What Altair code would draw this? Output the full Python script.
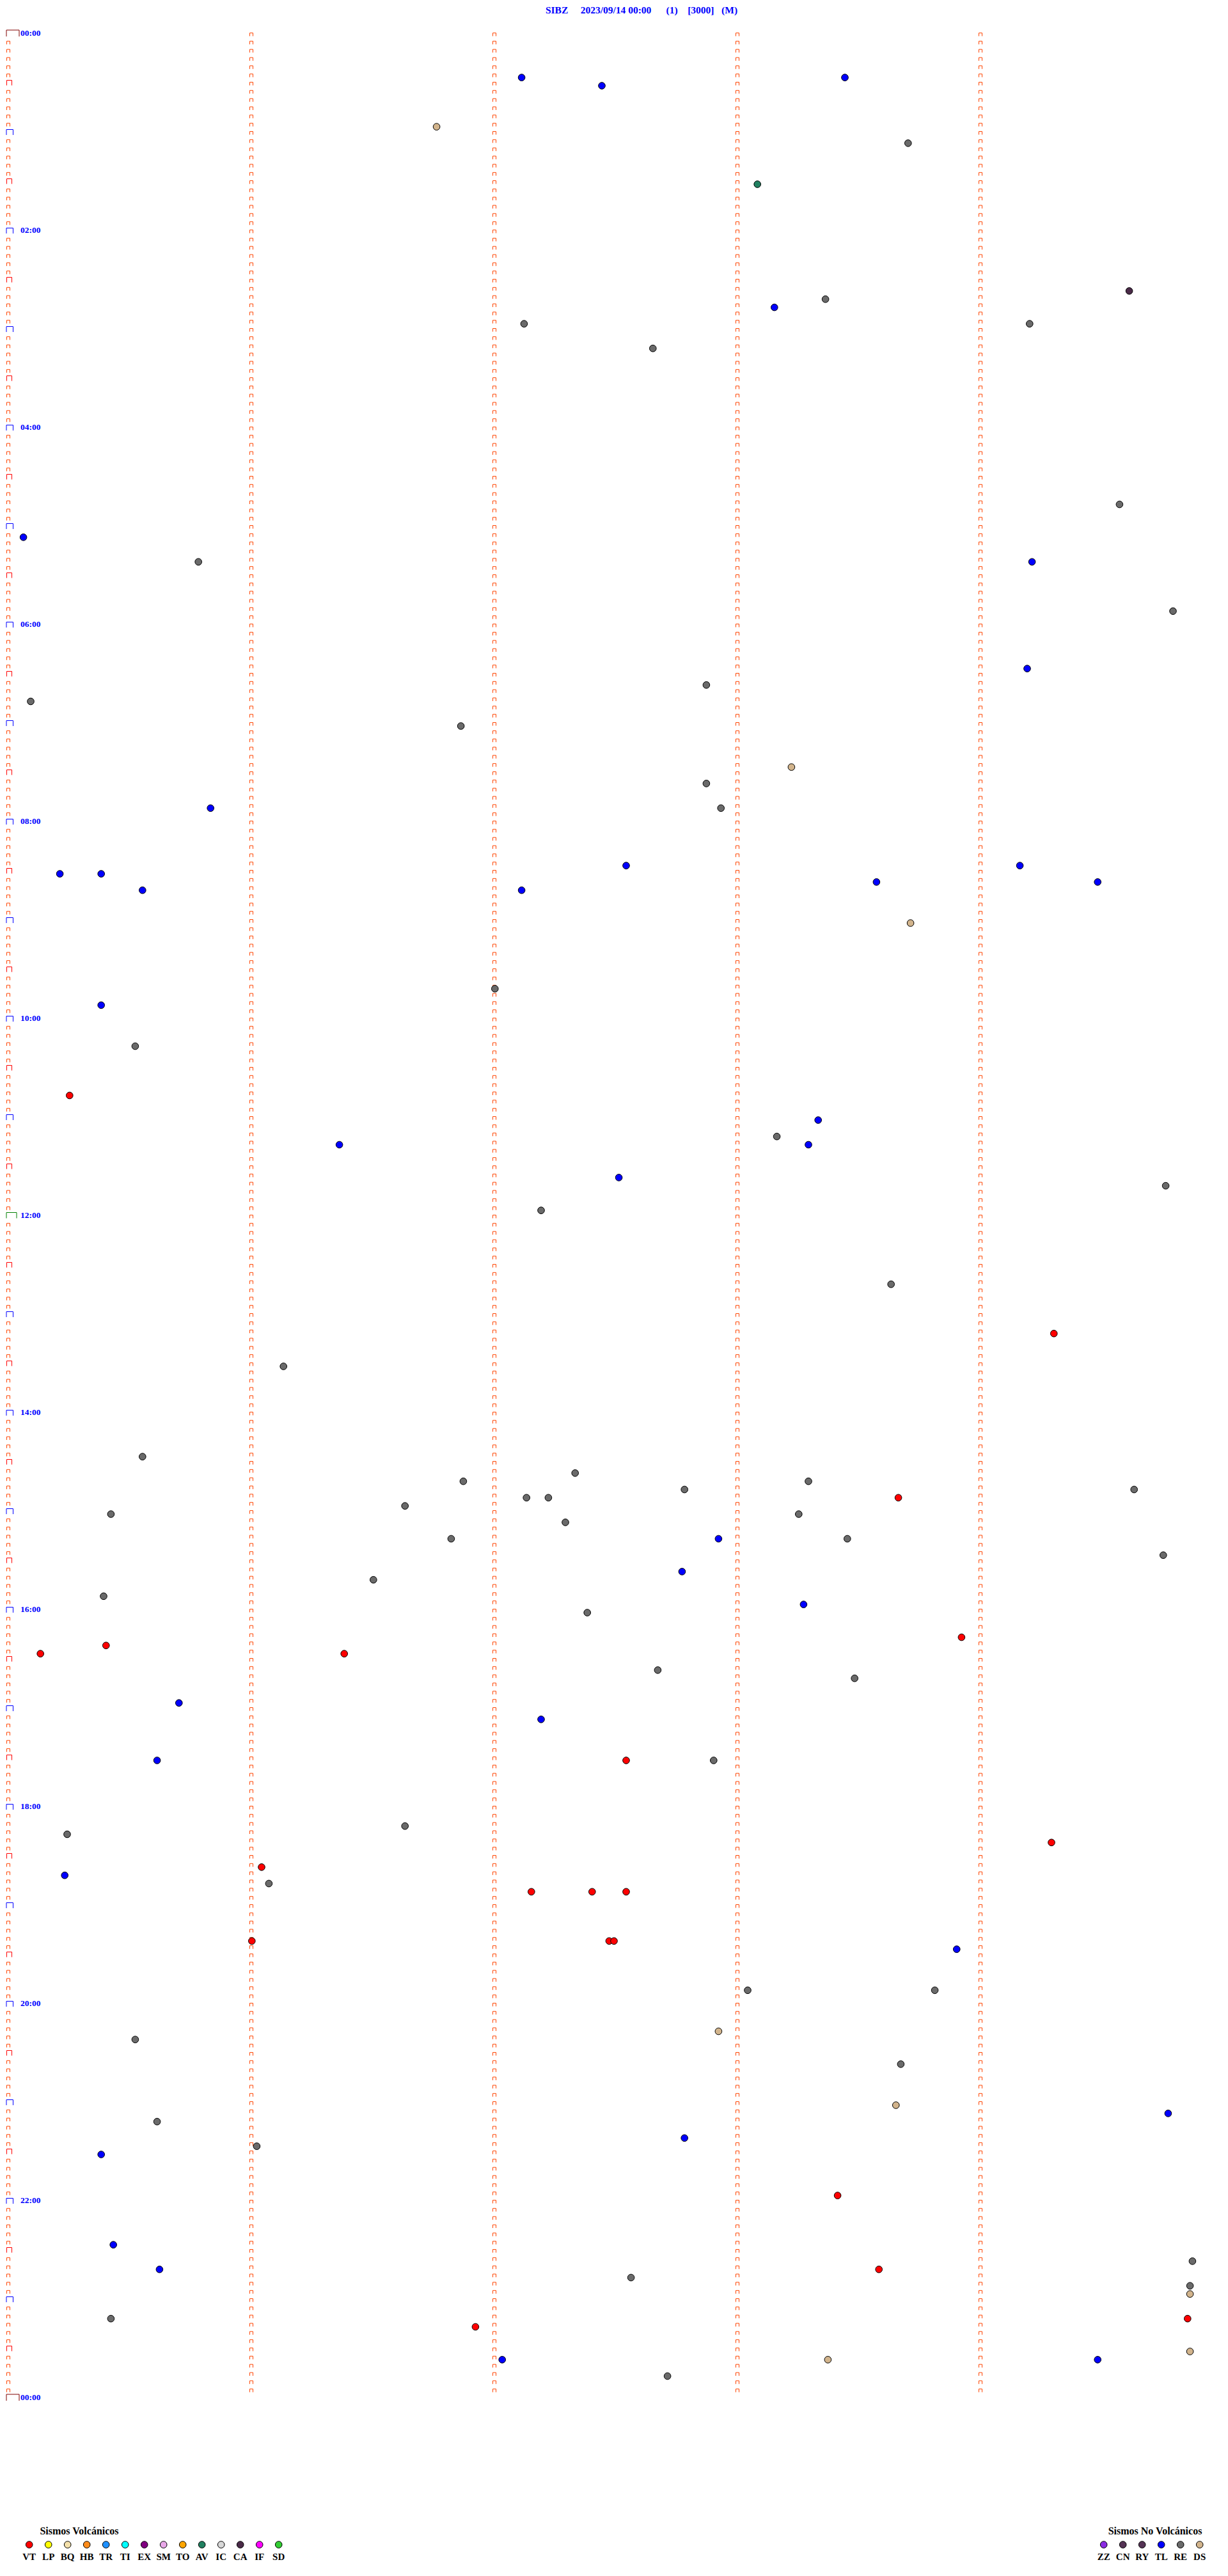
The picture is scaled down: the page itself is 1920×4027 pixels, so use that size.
import altair as alt
import pandas as pd

# ---------------- data ----------------
estacion = "SIBZ"
fecha = "2023/09/14 00:00"
canal = "(1)"
escala = "[3000]"
modo = "(M)"

codigos_volc = ["VT", "LP", "BQ", "HB", "TR", "TI", "EX", "SM", "TO", "AV", "IC", "CA", "IF", "SD"]
colores_volc = ["#ff0000", "#ffff00", "#f3e0aa", "#ff8c1a", "#1e90ff", "#00ffff", "#800080",
                "#e8a8e8", "#ffa500", "#218060", "#d8d8d8", "#4a2a48", "#ff00ff", "#32cd32"]
codigos_novolc = ["ZZ", "CN", "RY", "TL", "RE", "DS"]
colores_novolc = ["#8a2be2", "#553355", "#553355", "#0000ff", "#6a6a6a", "#d2b48c"]

# event time (minutes after 00:00) and event type
tiempo_min = [27.12, 32.45, 28.45, 56.77, 68.71, 93.09, 159.62, 168.16, 163.37, 177.13,
              192.66, 179.21, 289.58, 305.07, 320.79, 324.22, 354.80, 389.20, 397.88, 405.10,
              421.87, 448.23, 457.88, 472.94, 470.84, 507.55, 510.22, 510.39, 520.56, 522.12,
              518.58, 509.17, 519.49, 543.72, 582.01, 590.39, 615.53, 645.26, 663.34, 673.17,
              678.30, 676.37, 697.52, 704.77, 717.20, 763.64, 794.31, 811.14, 865.56, 877.34,
              881.88, 883.30, 887.79, 889.64, 892.14, 892.23, 893.67, 900.43, 896.64, 903.26,
              907.30, 917.93, 916.83, 918.46, 929.76, 937.78, 941.51, 950.40, 958.28, 962.39,
              978.93, 980.41, 985.14, 986.39, 997.68, 1003.49, 1015.71, 1027.20, 1050.62, 1052.55,
              1052.91, 1091.64, 1095.25, 1104.30, 1116.05, 1120.24, 1126.08, 1132.16, 1132.41, 1132.55,
              1161.01, 1162.48, 1162.50, 1168.91, 1193.05, 1193.82, 1217.93, 1220.53, 1238.68, 1263.66,
              1269.78, 1270.62, 1282.79, 1286.03, 1290.39, 1318.42, 1345.44, 1360.63, 1367.57, 1363.59,
              1359.88, 1374.87, 1379.87, 1394.86, 1414.87, 1390.43, 1396.93, 1417.04, 1427.72, 1418.38,
              1419.49]
tipo = ["TL", "TL", "TL", "DS", "RE", "AV", "CA", "TL", "RE", "RE",
        "RE", "RE", "RE", "TL", "RE", "TL", "RE", "TL", "RE", "RE",
        "RE", "DS", "RE", "RE", "TL", "TL", "TL", "TL", "TL", "TL",
        "TL", "TL", "TL", "DS", "RE", "TL", "RE", "VT", "TL", "RE",
        "TL", "TL", "TL", "RE", "RE", "RE", "VT", "RE", "RE", "RE",
        "RE", "RE", "RE", "RE", "RE", "RE", "VT", "RE", "RE", "RE",
        "RE", "TL", "RE", "RE", "RE", "TL", "RE", "RE", "TL", "RE",
        "VT", "VT", "VT", "VT", "RE", "RE", "TL", "TL", "TL", "VT",
        "RE", "RE", "RE", "VT", "VT", "TL", "RE", "VT", "VT", "VT",
        "VT", "VT", "VT", "TL", "RE", "RE", "DS", "RE", "RE", "DS",
        "TL", "RE", "TL", "RE", "TL", "VT", "TL", "TL", "RE", "VT",
        "RE", "RE", "DS", "VT", "DS", "RE", "VT", "TL", "RE", "DS",
        "TL"]

horas = ["00:00", "02:00", "04:00", "06:00", "08:00", "10:00", "12:00",
         "14:00", "16:00", "18:00", "20:00", "22:00", "00:00"]

# ---------------- layout constants ----------------
MIN_POR_FILA = 5          # each trace row holds 5 minutes
N_FILAS = 288             # 24 h
PAD_TOP = 10
W = 1904
HP = 4000 - PAD_TOP       # plot height
PX_MIN = 380.0            # px per minute
PX_FILA = 12.8333         # px per row
X0 = 2.0                  # plot x of minute 0
Y0 = 46.0 - PAD_TOP       # plot y of row 0

x_scale = alt.Scale(domain=[-X0 / PX_MIN, (W - X0) / PX_MIN], nice=False, zero=False)
y_scale = alt.Scale(domain=[-Y0 / PX_FILA, (HP - Y0) / PX_FILA], nice=False, zero=False, reverse=True)

# ---------------- tick grid (structure of the helicorder) ----------------
kinds = ["min", "media", "hora", "medianoche", "mediodia"]
kind_paths = [
    "M0.5,2.5L0.5,-2.5L5.5,-2.5L5.5,2.5",
    "M0.5,2.5L0.5,-5.5L8.5,-5.5L8.5,2.5",
    "M0,3L0,-5.5L10.5,-5.5L10.5,3",
    "M0,3L0,-7L20,-7L20,3",
    "M0,2.5L0,-6.5L16,-6.5L16,2.5",
]
kind_colors = ["#ff4500", "#ff0000", "#0000ff", "#800000", "#008000"]
kind_widths = [1, 1, 2, 2, 2]

rows = []
for r in range(N_FILAS + 1):
    if r % N_FILAS == 0:
        k = "medianoche"
    elif r == N_FILAS // 2:
        k = "mediodia"
    elif r % 12 == 0:
        k = "hora"
    elif r % 6 == 0:
        k = "media"
    else:
        k = "min"
    rows.append({"col": 0, "fila": r, "kind": k})
    if r < N_FILAS:
        for c in range(1, MIN_POR_FILA):
            rows.append({"col": c, "fila": r, "kind": "min"})
tick_df = pd.DataFrame(rows)

ticks = alt.Chart(tick_df).mark_point(filled=False, size=4, opacity=1).encode(
    x=alt.X("col:Q", scale=x_scale, axis=None),
    y=alt.Y("fila:Q", scale=y_scale, axis=None),
    shape=alt.Shape("kind:N", scale=alt.Scale(domain=kinds, range=kind_paths), legend=None),
    stroke=alt.Stroke("kind:N", scale=alt.Scale(domain=kinds, range=kind_colors), legend=None),
    strokeWidth=alt.StrokeWidth("kind:O", scale=alt.Scale(domain=kinds, range=kind_widths), legend=None),
)

# ---------------- hour labels ----------------
hora_df = pd.DataFrame({"hora": horas, "fila": [i * 24 for i in range(len(horas))]})
hour_labels = alt.Chart(hora_df).transform_calculate(c0="0").mark_text(
    align="left", baseline="middle", dx=22, dy=-2, font="Liberation Serif",
    fontWeight="bold", fontSize=13.5, color="#0000ff"
).encode(
    x=alt.X("c0:Q", scale=x_scale, axis=None),
    y=alt.Y("fila:Q", scale=y_scale, axis=None),
    text="hora:N",
)

# ---------------- events ----------------
all_codes = codigos_volc + codigos_novolc
all_colors = colores_volc + colores_novolc
color_scale = alt.Scale(domain=all_codes, range=all_colors)

ev = pd.DataFrame({"t": tiempo_min, "tipo": tipo})
dots = alt.Chart(ev).transform_calculate(
    fila=f"floor(datum.t / {MIN_POR_FILA})",
    minuto=f"datum.t - {MIN_POR_FILA} * floor(datum.t / {MIN_POR_FILA})",
).mark_circle(size=113, stroke="black", strokeWidth=1, opacity=1, yOffset=3).encode(
    x=alt.X("minuto:Q", scale=x_scale, axis=None),
    y=alt.Y("fila:Q", scale=y_scale, axis=None),
    color=alt.Color("tipo:N", scale=color_scale, legend=None),
)

# ---------------- title ----------------
nb = "\u00a0"
titulo = (estacion + nb * 5 + fecha + nb * 6 + canal + nb * 4 + escala + nb * 3 + modo)
title = alt.Chart(pd.DataFrame({"txt": [titulo]})).mark_text(
    align="center", baseline="middle", font="Liberation Serif", fontWeight="bold",
    fontSize=15.5, color="#0000ff"
).encode(x=alt.value(995), y=alt.value(8 - PAD_TOP), text="txt:N")


# ---------------- legends ----------------
def legend_group(codes, x_range, title_text, title_x):
    df = pd.DataFrame({"tipo": codes})
    xenc = alt.X("tipo:N", sort=codes, axis=None,
                 scale=alt.Scale(type="point", range=x_range, padding=0))
    circ = alt.Chart(df).mark_circle(size=113, stroke="black", strokeWidth=1, opacity=1).encode(
        x=xenc, y=alt.value(3970 - PAD_TOP),
        color=alt.Color("tipo:N", scale=color_scale, legend=None),
    )
    lab = alt.Chart(df).mark_text(
        align="center", baseline="middle", font="Liberation Serif", fontWeight="bold",
        fontSize=15, color="black"
    ).encode(x=xenc, y=alt.value(3989 - PAD_TOP), text="tipo:N")
    ttl = alt.Chart(pd.DataFrame({"txt": [title_text]})).mark_text(
        align="center", baseline="middle", font="Liberation Serif", fontWeight="bold",
        fontSize=16, color="black"
    ).encode(x=alt.value(title_x), y=alt.value(3949 - PAD_TOP), text="txt:N")
    return [circ, lab, ttl]


leg_v = legend_group(codigos_volc, [37.7, 427.7], "Sismos Volcánicos", 116)
leg_n = legend_group(codigos_novolc, [1717.7, 1867.7], "Sismos No Volcánicos", 1798)

chart = alt.layer(ticks, hour_labels, dots, title, *leg_v, *leg_n).resolve_scale(
    x="independent"
).properties(
    width=W, height=HP, autosize=alt.AutoSizeParams(type="none"),
    padding={"left": 0, "top": PAD_TOP, "right": 0, "bottom": 0},
    background="white"
).configure_view(strokeWidth=0)

chart.save("out.html", embed_options={"renderer": "svg", "actions": False})
